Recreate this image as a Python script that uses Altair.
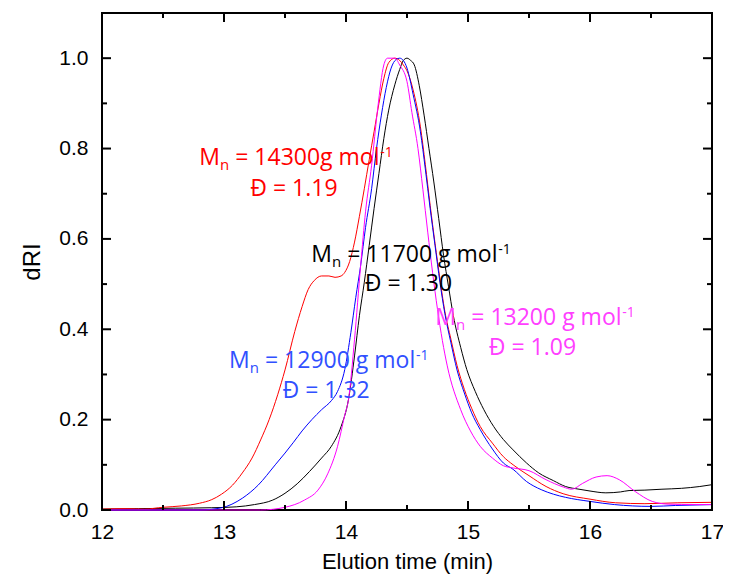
import altair as alt
import pandas as pd

# ---------------- data ----------------
black_t = [12.0, 12.3, 12.6, 12.9, 13.1, 13.25, 13.4, 13.5, 13.6, 13.7, 13.8, 13.88, 13.96, 14.02, 14.07,
           14.11, 14.15, 14.19, 14.23, 14.27, 14.31, 14.35, 14.40, 14.44, 14.47, 14.50, 14.53, 14.56, 14.60,
           14.64, 14.68, 14.72, 14.76, 14.80, 14.84, 14.88, 14.94, 14.99, 15.06, 15.13, 15.21, 15.29, 15.37,
           15.48, 15.58, 15.70, 15.80, 15.91, 16.0, 16.13, 16.25, 16.32, 16.45, 16.59, 16.75, 16.9, 17.0]
black_y = [0.002, 0.003, 0.004, 0.005, 0.007, 0.012, 0.022, 0.037, 0.058, 0.085, 0.115, 0.141, 0.185, 0.244,
           0.341, 0.43, 0.504, 0.585, 0.667, 0.745, 0.822, 0.885, 0.941, 0.975, 0.995, 1.0, 0.995, 0.985, 0.94,
           0.874, 0.80, 0.726, 0.645, 0.563, 0.495, 0.43, 0.36, 0.311, 0.262, 0.222, 0.185, 0.156, 0.133,
           0.104, 0.082, 0.065, 0.052, 0.046, 0.042, 0.038, 0.040, 0.043, 0.044, 0.046, 0.048, 0.052, 0.056]

red_t = [12.0, 12.2, 12.35, 12.5, 12.65, 12.8, 12.9, 12.98, 13.07, 13.15, 13.23, 13.30, 13.37, 13.44, 13.50,
         13.58, 13.64, 13.69, 13.74, 13.80, 13.86, 13.91, 13.96, 13.99, 14.03, 14.07, 14.11, 14.15, 14.19,
         14.23, 14.27, 14.31, 14.35, 14.40, 14.44, 14.47, 14.50, 14.55, 14.61, 14.65, 14.69, 14.73, 14.77,
         14.81, 14.86, 14.91, 14.97, 15.03, 15.10, 15.2, 15.29, 15.37, 15.5, 15.64, 15.78, 16.0, 16.21,
         16.45, 16.72, 17.0]
red_y = [0.002, 0.003, 0.002, 0.006, 0.009, 0.015, 0.023, 0.035, 0.055, 0.082, 0.115, 0.155, 0.20, 0.255,
         0.31, 0.395, 0.45, 0.488, 0.508, 0.518, 0.518, 0.515, 0.518, 0.526, 0.55, 0.593, 0.65, 0.711, 0.775,
         0.837, 0.90, 0.955, 0.99, 1.0, 0.995, 0.985, 0.972, 0.93, 0.848, 0.765, 0.674, 0.59, 0.511, 0.44,
         0.378, 0.32, 0.267, 0.225, 0.185, 0.148, 0.118, 0.100, 0.076, 0.052, 0.036, 0.024, 0.016, 0.014,
         0.016, 0.017]

blue_t = [12.0, 12.8, 12.98, 13.15, 13.28, 13.42, 13.5, 13.57, 13.64, 13.72, 13.80, 13.88, 13.93, 13.99,
          14.04, 14.08, 14.12, 14.16, 14.21, 14.25, 14.29, 14.33, 14.37, 14.41, 14.44, 14.47, 14.50, 14.55,
          14.61, 14.65, 14.69, 14.73, 14.77, 14.81, 14.86, 14.91, 14.97, 15.03, 15.10, 15.2, 15.29, 15.37,
          15.48, 15.6, 15.70, 15.8, 16.0, 16.2, 16.5, 16.7, 17.0]
blue_y = [0.0, 0.0, 0.005, 0.026, 0.055, 0.1, 0.126, 0.15, 0.175, 0.2, 0.222, 0.242, 0.262, 0.311, 0.393,
          0.47, 0.541, 0.625, 0.711, 0.8, 0.874, 0.935, 0.978, 0.997, 1.0, 0.995, 0.978, 0.92, 0.837, 0.755,
          0.667, 0.585, 0.504, 0.435, 0.37, 0.31, 0.259, 0.215, 0.178, 0.135, 0.104, 0.090, 0.063, 0.045,
          0.035, 0.028, 0.019, 0.012, 0.008, 0.010, 0.012]

magenta_t = [12.0, 13.3, 13.5, 13.66, 13.77, 13.85, 13.93, 13.99, 14.02, 14.07, 14.12, 14.16, 14.21, 14.26,
             14.31, 14.34, 14.40, 14.44, 14.50, 14.54, 14.59, 14.63, 14.67, 14.71, 14.75, 14.79, 14.83, 14.94,
             15.02, 15.10, 15.2, 15.29, 15.37, 15.50, 15.64, 15.78, 15.85, 15.94, 16.05, 16.14, 16.24, 16.37,
             16.51, 16.64, 16.86, 17.0]
magenta_y = [0.0, 0.0, 0.006, 0.022, 0.044, 0.08, 0.14, 0.21, 0.244, 0.378, 0.541, 0.66, 0.763, 0.889,
             0.985, 1.0, 1.0, 0.985, 0.948, 0.88, 0.80, 0.71, 0.615, 0.525, 0.444, 0.375, 0.319, 0.222,
             0.175, 0.141, 0.115, 0.098, 0.093, 0.087, 0.067, 0.051, 0.046, 0.059, 0.073, 0.076, 0.067,
             0.041, 0.019, 0.013, 0.012, 0.012]

series_names = ["black", "red", "blue", "magenta"]
line_colors = ["#000000", "#ff0000", "#0000ff", "#ff00ff"]
text_colors = ["#000000", "#ff0000", "#3050ff", "#ff40ff"]

# annotations (same order as series_names)
ann_mn = ["11700 g", "14300g", "12900 g", "13200 g"]
ann_disp = ["1.30", "1.19", "1.32", "1.09"]
ann_t = [13.715, 12.797, 13.041, 14.732]      # left edge of "M"
ann_v = [0.5496, 0.764, 0.315, 0.409]          # baseline of first line
ann2_t = [14.512, 13.573, 13.837, 15.528]      # centre of second line
ann2_v = [0.484, 0.696, 0.248, 0.342]          # baseline of second line

x_major = [12, 13, 14, 15, 16, 17]
x_minor = [12.5, 13.5, 14.5, 15.5, 16.5]
y_major = [0.0, 0.2, 0.4, 0.6, 0.8, 1.0]
y_minor = [0.1, 0.3, 0.5, 0.7, 0.9]

# ---------------- layout / style ----------------
W, H = 610, 497
X0, X1, Y0, Y1 = 12.0, 17.0, 0.0, 1.1
MAJ, MIN = 9, 5
TICK_COLOR = "#000000"
ANN_FONT = "Open Sans"
S_MAIN, S_SUB, S_SUP = 23, 15, 14

OS = {' ': 532, '=': 1171, 'M': 1853, 'n': 1257, 'g': 1124, 'm': 1905, 'o': 1237, 'l': 561,
      '-': 659, '.': 545}
for d in "0123456789":
    OS[d] = 1171


def tw(s, size):
    return sum(OS.get(c, 1100) for c in s) / 2048.0 * size


rows = []
for name, ts, ys in zip(series_names, [black_t, red_t, blue_t, magenta_t],
                        [black_y, red_y, blue_y, magenta_y]):
    for k, (t, v) in enumerate(zip(ts, ys)):
        rows.append({"series": name, "o": k, "t": t, "v": v})
df = pd.DataFrame(rows)

xscale = alt.Scale(domain=[X0, X1], nice=False, zero=False)
yscale = alt.Scale(domain=[Y0, Y1], nice=False, zero=False)
xaxis = alt.Axis(values=x_major, format="d", title="Elution time (min)", grid=False, ticks=False,
                 tickSize=0, domain=False, labelFlush=False, labelFont="Liberation Sans", labelFontSize=21,
                 labelColor="#000000", labelPadding=11, titleFont="Liberation Sans", titleFontSize=22,
                 titleFontWeight="normal", titleColor="#000000", titlePadding=9)
yaxis = alt.Axis(values=y_major, format=".1f", title="dRI", grid=False, ticks=False, tickSize=0,
                 domain=False, labelFlush=False, labelFont="Liberation Sans", labelFontSize=21,
                 labelColor="#000000", labelPadding=14, titleFont="Liberation Sans", titleFontSize=24,
                 titleFontWeight="normal", titleColor="#000000", titlePadding=14)

X = lambda f: alt.X(f, scale=xscale, axis=xaxis)
Y = lambda f: alt.Y(f, scale=yscale, axis=yaxis)

lines = alt.Chart(df).mark_line(interpolate="monotone", strokeWidth=1).encode(
    x=X("t:Q"),
    y=Y("v:Q"),
    color=alt.Color("series:N", scale=alt.Scale(domain=series_names, range=line_colors), legend=None),
    detail="series:N",
    order="o:Q",
)

# inward frame ticks on all four sides (length converted to data units)
dy_maj = MAJ / H * (Y1 - Y0)
dy_min = MIN / H * (Y1 - Y0)
dx_maj = MAJ / W * (X1 - X0)
dx_min = MIN / W * (X1 - X0)
xt = pd.DataFrame(
    [{"t": t, "v": Y0, "v2": Y0 + dy_maj} for t in x_major] +
    [{"t": t, "v": Y1 - dy_maj, "v2": Y1} for t in x_major] +
    [{"t": t, "v": Y0, "v2": Y0 + dy_min} for t in x_minor] +
    [{"t": t, "v": Y1 - dy_min, "v2": Y1} for t in x_minor])
yt = pd.DataFrame(
    [{"v": v, "t": X0, "t2": X0 + dx_maj} for v in y_major] +
    [{"v": v, "t": X1 - dx_maj, "t2": X1} for v in y_major] +
    [{"v": v, "t": X0, "t2": X0 + dx_min} for v in y_minor] +
    [{"v": v, "t": X1 - dx_min, "t2": X1} for v in y_minor])
xticks = alt.Chart(xt).mark_rule(stroke=TICK_COLOR, strokeWidth=2).encode(
    x=X("t:Q"), y=Y("v:Q"), y2="v2:Q")
yticks = alt.Chart(yt).mark_rule(stroke=TICK_COLOR, strokeWidth=2).encode(
    x=X("t:Q"), x2="t2:Q", y=Y("v:Q"))

layers = [lines, xticks, yticks]

# annotations: M_n = ... g mol^-1 / Đ = ...
for i in range(len(series_names)):
    col = text_colors[i]
    main = "= " + ann_mn[i] + " mol"
    d1 = pd.DataFrame({"t": [ann_t[i]], "v": [ann_v[i]]})
    wM = tw("M", S_MAIN)
    wn = tw("n", S_SUB)
    wsp = tw(" ", S_MAIN)
    wmain = tw(main, S_MAIN)
    pieces = [("M", S_MAIN, 0, 0), ("n", S_SUB, wM, 5), (main, S_MAIN, wM + wn + wsp, 0),
              ("-1", S_SUP, wM + wn + wsp + wmain, -8)]
    for txt, size, dx, dy in pieces:
        layers.append(alt.Chart(d1).mark_text(
            text=txt, font=ANN_FONT, fontSize=size, color=col, align="left",
            baseline="alphabetic", dx=dx, dy=dy).encode(x=X("t:Q"), y=Y("v:Q")))
    d2 = pd.DataFrame({"t": [ann2_t[i]], "v": [ann2_v[i]]})
    layers.append(alt.Chart(d2).mark_text(
        text="Đ = " + ann_disp[i], font=ANN_FONT, fontSize=S_MAIN, color=col, align="center",
        baseline="alphabetic").encode(x=X("t:Q"), y=Y("v:Q")))

chart = alt.layer(*layers).properties(
    width=W, height=H,
    autosize=alt.AutoSizeParams(type="none"),
    padding={"left": 94, "top": 5, "right": 11, "bottom": 65},
    background="white",
).configure_view(stroke="black", strokeWidth=2)

chart.save("out.html", embed_options={"renderer": "svg", "actions": False})
